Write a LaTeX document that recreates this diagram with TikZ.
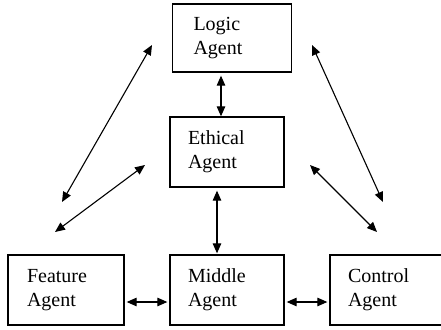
\documentclass[tikz,border=0pt]{standalone}
\usepackage{fontspec}
\setmainfont{Liberation Serif}
\usetikzlibrary{arrows.meta}

\begin{document}
\begin{tikzpicture}[x=1pt,y=-1pt,>={Triangle[length=10pt,width=8.5pt]},
                        agent/.style={draw,line width=1.3pt,minimum height=70pt,
                            inner xsep=18pt,inner ysep=0pt,align=left,
                            font=\fontsize{20}{24}\selectfont},
                        link/.style={<->,line width=1.1pt}]
                        \useasboundingbox (0,0) rectangle (441,329);
                        \node[agent,minimum width=116pt,minimum height=68pt,text width=77pt,inner xsep=21pt] (logic) at (232,38) {Logic\\Agent};
                        \node[agent,minimum width=114pt,text width=78pt] (ethical) at (227,152) {Ethical\\Agent};
                        \node[agent,minimum width=116pt,text width=78pt] (feature) at (66,290) {Feature\\Agent};
                        \node[agent,minimum width=114pt,text width=78pt] (middle) at (227,290) {Middle\\Agent};
                        \node[agent,minimum width=114pt,text width=78pt] (control) at (387,290) {Control\\Agent};
                        \coordinate (lt1) at (152,45);
                        \coordinate (lb1) at (62,202);
                        \coordinate (lt2) at (145,165);
                        \coordinate (lb2) at (55,232);
                        \coordinate (rt1) at (312,45);
                        \coordinate (rb1) at (383,202);
                        \coordinate (rt2) at (310,165);
                        \coordinate (rb2) at (377,232);
                        \draw[link,shorten <=3pt] ([xshift=-11pt]logic.south) -- ([xshift=-11pt]logic.south |- ethical.north);
                        \draw[link,shorten <=3pt,shorten >=1pt] ([xshift=-10pt]ethical.south) -- ([xshift=-10pt]middle.north);
                        \draw[link,shorten <=2pt,shorten >=2pt] ([yshift=-12pt]feature.east) -- ([yshift=-12pt]middle.west);
                        \draw[link,shorten <=2pt,shorten >=2pt] ([yshift=-12pt]middle.east) -- ([yshift=-12pt]control.west);
                        \draw[link] (lt1) -- (lb1);
                        \draw[link] (lt2) -- (lb2);
                        \draw[link] (rt1) -- (rb1);
                        \draw[link] (rt2) -- (rb2);
                    \end{tikzpicture}
\end{document}
